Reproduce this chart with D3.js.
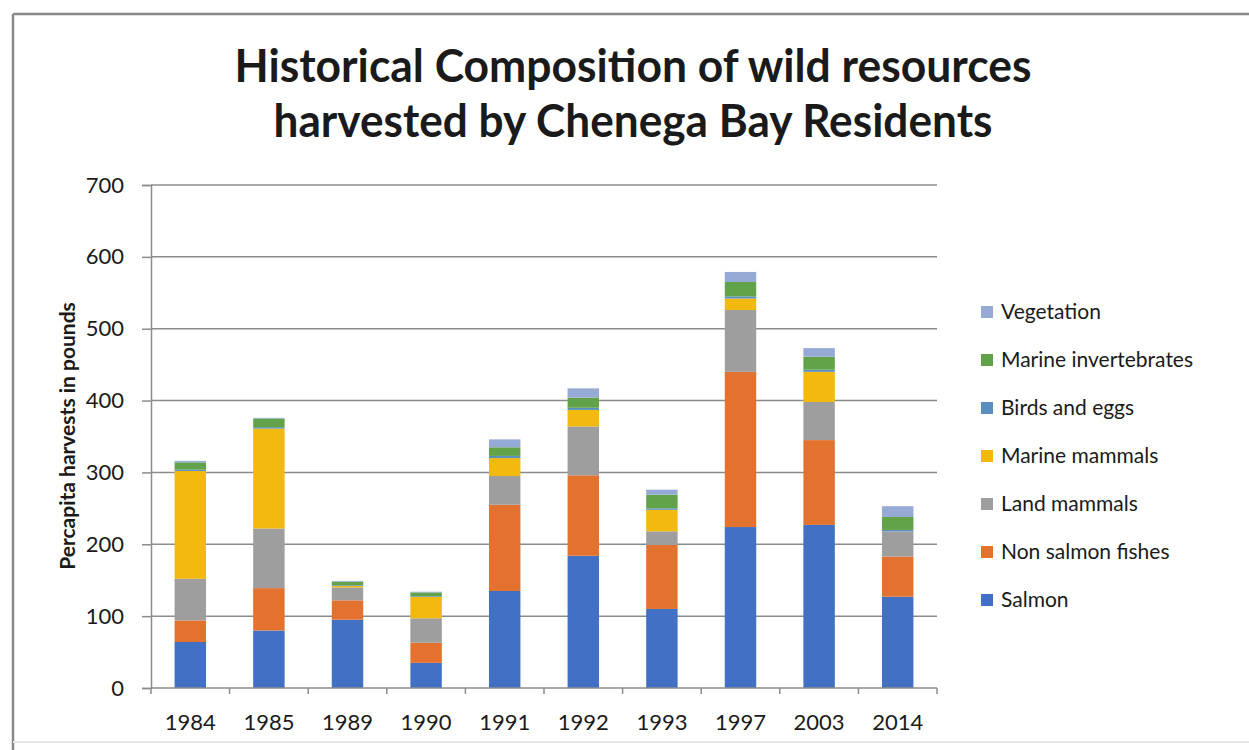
<!DOCTYPE html>
<html>
<head>
<meta charset="utf-8">
<script src="https://cdn.jsdelivr.net/npm/d3@7"></script>
<style>
  body { margin: 0; background: #fff; }
  text { font-family: Lato, 'Open Sans', sans-serif; fill: #1a1a1a; }
</style>
</head>
<body>
<div id="chart"></div>
<script>
const years = ['1984', '1985', '1989', '1990', '1991', '1992', '1993', '1997', '2003', '2014']
const salmon = [64, 80, 95, 35, 135, 184, 110, 224, 227, 127]
const nonSalmon = [30, 59, 27, 28, 120, 112, 89, 216, 118, 56]
const landMammals = [58, 83, 18, 34, 40, 68, 19, 86, 53, 35]
const marineMammals = [150, 139, 2, 30, 25, 23, 30, 16, 42, 0]
const birds = [2, 2, 1, 1, 3, 3, 2, 3, 3, 2]
const marineInverts = [10, 12, 5, 5, 12, 14, 19, 20, 18, 18]
const vegetation = [2, 1, 1, 1, 11, 13, 7, 14, 12, 15]
const seriesNames = ['Salmon', 'Non salmon fishes', 'Land mammals', 'Marine mammals', 'Birds and eggs', 'Marine invertebrates', 'Vegetation']
const yTicks = [0, 100, 200, 300, 400, 500, 600, 700]

const colors = ['#4170c4', '#e4722f', '#9e9e9e', '#f2b90f', '#5b8fc0', '#62a34a', '#96aad6']
const width = 1249
const height = 750
const margin = {
  'top': 185,
  'left': 151,
  'right': 312,
  'bottom': 62
}

let seriesValues = [salmon, nonSalmon, landMammals, marineMammals, birds, marineInverts, vegetation]
let table = years.map((y, i) => {
  let row = {year: y}
  seriesNames.forEach((name, k) => { row[name] = seriesValues[k][i] })
  return row
})

let svg = d3.select('#chart').append('svg')
  .attr('width', width)
  .attr('height', height)

svg.append('rect').attr('width', width).attr('height', height).attr('fill', '#fff')

// slide frame
svg.append('line').attr('x1', 13).attr('x2', width).attr('y1', 14).attr('y2', 14)
  .attr('stroke', '#8a8a8a').attr('stroke-width', 2.5)
svg.append('line').attr('x1', 13).attr('x2', 13).attr('y1', 14).attr('y2', height)
  .attr('stroke', '#8a8a8a').attr('stroke-width', 2.5)
svg.append('line').attr('x1', 13).attr('x2', width).attr('y1', 742).attr('y2', 742)
  .attr('stroke', '#e6e6e6').attr('stroke-width', 2)

let xScale = d3.scaleBand()
  .domain(years)
  .range([margin.left, width - margin.right])
  .paddingInner(0.6)
  .paddingOuter(0.3)
let yScale = d3.scaleLinear()
  .domain([0, 700])
  .range([height - margin.bottom, margin.top])

// gridlines
svg.append('g').selectAll('line')
  .data(yTicks.filter(d => d > 0))
  .enter().append('line')
  .attr('x1', margin.left).attr('x2', width - margin.right)
  .attr('y1', d => yScale(d)).attr('y2', d => yScale(d))
  .attr('stroke', '#8c8c8c').attr('stroke-width', 1.5)

let stack = d3.stack().keys(seriesNames)(table)
svg.append('g').selectAll('g')
  .data(stack)
  .enter().append('g')
  .attr('fill', (d, i) => colors[i])
  .selectAll('rect')
  .data(d => d)
  .enter().append('rect')
  .attr('x', d => xScale(d.data.year))
  .attr('y', d => yScale(d[1]))
  .attr('width', xScale.bandwidth())
  .attr('height', d => yScale(d[0]) - yScale(d[1]))

// y axis
let yAxis = svg.append('g')
  .attr('transform', `translate(${margin.left},0)`)
  .call(d3.axisLeft(yScale).tickValues(yTicks).tickSize(9).tickPadding(18))
yAxis.select('.domain').attr('stroke', '#8c8c8c').attr('stroke-width', 1.5)
yAxis.selectAll('.tick line').attr('stroke', '#8c8c8c').attr('stroke-width', 1.5)
yAxis.selectAll('.tick text').style('font-size', '22px').attr('fill', '#222')

// x axis with ticks on band edges
let xAxisG = svg.append('g').attr('transform', `translate(0,${height - margin.bottom})`)
xAxisG.append('line')
  .attr('x1', margin.left).attr('x2', width - margin.right)
  .attr('stroke', '#8c8c8c').attr('stroke-width', 1.5)
let edges = years.map(y => xScale(y) - xScale.step() * xScale.paddingOuter())
edges.push(width - margin.right)
xAxisG.selectAll('.edge')
  .data(edges)
  .enter().append('line')
  .attr('x1', d => d).attr('x2', d => d)
  .attr('y1', 0).attr('y2', 6)
  .attr('stroke', '#8c8c8c').attr('stroke-width', 1.5)
xAxisG.selectAll('.lbl')
  .data(years)
  .enter().append('text')
  .attr('x', d => xScale(d) + xScale.bandwidth() / 2)
  .attr('y', 42)
  .attr('text-anchor', 'middle')
  .style('font-size', '22px')
  .attr('fill', '#222')
  .text(d => d)

// y axis title
svg.append('text')
  .attr('transform', 'translate(75,436) rotate(-90)')
  .attr('text-anchor', 'middle')
  .style('font-size', '21px')
  .style('font-weight', 'bold')
  .text('Percapita harvests in pounds')

// chart title
let titleLines = [
  {text: 'Historical Composition of wild resources', y: 82, len: 797},
  {text: 'harvested by Chenega Bay Residents', y: 137, len: 719}
]
svg.selectAll('.title')
  .data(titleLines)
  .enter().append('text')
  .attr('x', 633)
  .attr('y', d => d.y)
  .attr('text-anchor', 'middle')
  .attr('textLength', d => d.len)
  .attr('lengthAdjust', 'spacingAndGlyphs')
  .style('font-size', '45px')
  .style('font-weight', 'bold')
  .attr('fill', '#111')
  .text(d => d.text)

// legend, top entry is the last series
let legendItems = seriesNames.map((n, i) => ({name: n, color: colors[i]})).reverse()
let legend = svg.append('g').attr('transform', 'translate(981,312)')
let item = legend.selectAll('g')
  .data(legendItems)
  .enter().append('g')
  .attr('transform', (d, i) => `translate(0,${i * 48})`)
item.append('rect')
  .attr('x', 0).attr('y', -6)
  .attr('width', 12).attr('height', 12)
  .attr('fill', d => d.color)
item.append('text')
  .attr('x', 20).attr('y', 7)
  .style('font-size', '21px')
  .attr('fill', '#222')
  .text(d => d.name)
</script>
</body>
</html>
